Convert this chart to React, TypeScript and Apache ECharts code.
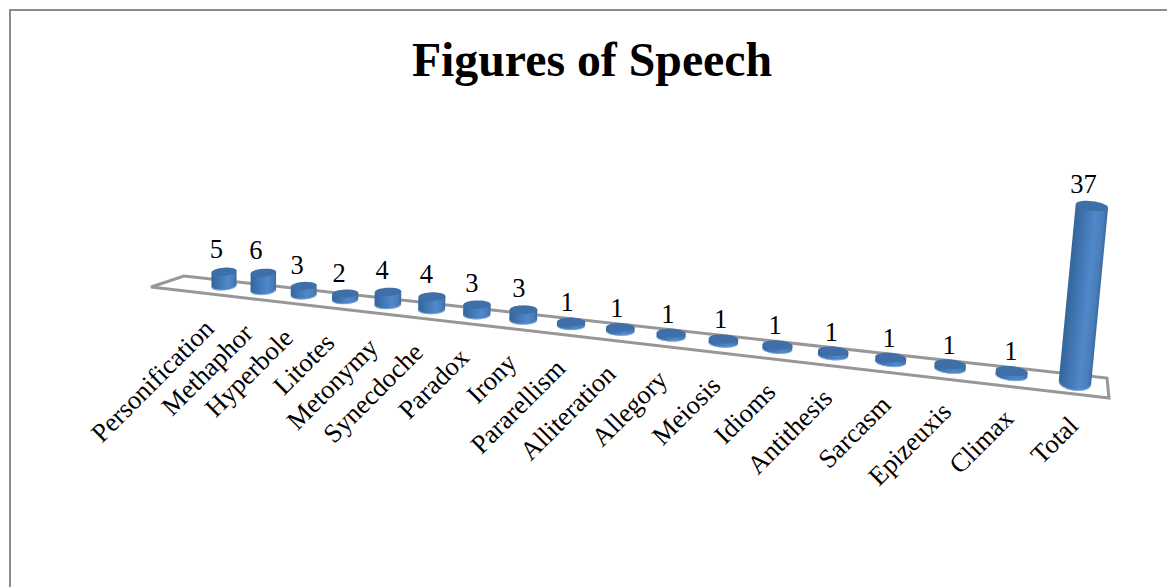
import React, { useEffect, useRef } from "react";
import * as echarts from "echarts";

const chartTitle = "Figures of Speech";
const categories = ["Personification", "Methaphor", "Hyperbole", "Litotes", "Metonymy", "Synecdoche", "Paradox", "Irony", "Pararellism", "Alliteration", "Allegory", "Meiosis", "Idioms", "Antithesis", "Sarcasm", "Epizeuxis", "Climax", "Total"];
const values = [5, 6, 3, 2, 4, 4, 3, 3, 1, 1, 1, 1, 1, 1, 1, 1, 1, 37];

const W = 1167, H = 587;
const GRID_LEFT = 224, GRID_WIDTH = 851, GRID_BASE = 286, UNIT = 2.87, Y_MAX = 40;
const LAST = categories.length - 1;
const PERSP = 0.01326;
const FONT = '26.5px "Liberation Serif", "Times New Roman", serif';

function arc(cx: number, cy: number, rx: number, ry: number, rot: number, from: number, to: number, n: number) {
  const pts: number[][] = [];
  const c = Math.cos(rot), s = Math.sin(rot);
  for (let i = 0; i <= n; i++) {
    const a = from + ((to - from) * i) / Math.max(n, 1);
    const ex = rx * Math.cos(a), ey = ry * Math.sin(a);
    pts.push([cx + ex * c - ey * s, cy + ex * s + ey * c]);
  }
  return pts;
}

function renderBar(_: any, api: any) {
  const idx = api.value(0);
  const v = api.value(1);
  const p0 = api.coord([idx, 0]);
  const p1 = api.coord([idx, v]);
  // project the flat axis position on to the receding floor
  const t = ((p0[0] - GRID_LEFT) / GRID_WIDTH) * LAST;
  const w = 1 - PERSP * t;
  const bx = (GRID_LEFT + 35.8 * t) / w;
  const by = p0[1] + (bx - GRID_LEFT) * 0.114;
  const h = (p0[1] - p1[1]) / (w * w);
  const tilt = ((bx - GRID_LEFT) / GRID_WIDTH) * 0.096;
  const tx = bx + h * tilt;
  const ty = by - h;
  const rx = 12.6 / w;
  const ry = 4 + 0.04 * t * (1 / w);
  const ryB = ry + h * 0.015;
  const rot = ((-5 + (12 * t) / LAST) * Math.PI) / 180;

  const body = [...arc(tx, ty, rx, ry, rot, Math.PI, Math.PI, 0).slice(0, 1), ...arc(bx, by, rx, ryB, rot, Math.PI, 0, 28), ...arc(tx, ty, rx, ry, rot, 0, 0, 0).slice(0, 1)];
  const gx = Math.cos(Math.atan(tilt)) * rx, gy = Math.sin(Math.atan(tilt)) * rx;
  const grad = new echarts.graphic.LinearGradient(bx - gx, by - gy, bx + gx, by + gy, [
    { offset: 0, color: "#34659b" },
    { offset: 0.3, color: "#4175b2" },
    { offset: 0.65, color: "#5088ca" },
    { offset: 0.88, color: "#4a7dba" },
    { offset: 1, color: "#3b6a9e" },
  ], true);
  const rim = arc(bx, by, rx - 0.5, ryB - 0.3, rot, Math.PI, 0, 28);

  const lx = tx - 7 + 0.4 * t - 0.047 * h;
  const ly = ty - 18.5 - Math.min(h, 14) * 0.28;
  const nx = bx - 15 + t - 3.5 * Math.min(1, t / 3);
  const ny = by + 38;

  return {
    type: "group",
    children: [
      { type: "polygon", shape: { points: body }, style: { fill: grad } },
      { type: "polyline", shape: { points: rim }, style: { stroke: "#86aee0", lineWidth: 1.2, fill: "none", opacity: 0.8 } },
      { type: "polygon", shape: { points: arc(tx, ty, rx, ry, rot, 0, Math.PI * 2, 36) }, style: { fill: "#3f6fa8" } },
      { type: "text", x: lx, y: ly, style: { text: String(v), font: FONT, fill: "#000", textAlign: "center", textVerticalAlign: "middle" } },
      { type: "text", x: nx, y: ny, rotation: Math.PI / 4, style: { text: categories[idx], font: FONT, fill: "#000", textAlign: "right", textVerticalAlign: "middle" } },
    ],
  };
}

export default function App() {
  const ref = useRef<HTMLDivElement>(null);
  useEffect(() => {
    document.body.style.margin = "0";
    document.body.style.overflow = "hidden";
    const chart = echarts.init(ref.current!, null, { renderer: "svg" });
    chart.setOption({
      animation: false,
      backgroundColor: "#fff",
      title: {
        text: chartTitle,
        left: 587,
        top: 30,
        textAlign: "center",
        textStyle: { fontFamily: '"Liberation Serif", serif', fontSize: 47.8, fontWeight: "bold", color: "#000" },
      },
      grid: { left: GRID_LEFT, width: GRID_WIDTH, top: GRID_BASE - UNIT * Y_MAX, height: UNIT * Y_MAX },
      xAxis: { type: "category", data: categories, boundaryGap: false, show: false },
      yAxis: { type: "value", min: 0, max: Y_MAX, show: false },
      graphic: [
        { type: "line", z: 0, shape: { x1: 9, y1: 10, x2: W, y2: 10 }, style: { stroke: "#8c8c8c", lineWidth: 2 } },
        { type: "line", z: 0, shape: { x1: 10, y1: 9, x2: 10, y2: H }, style: { stroke: "#8c8c8c", lineWidth: 2 } },
        { type: "polygon", z: 0, shape: { points: [[151, 287], [184, 276], [1107, 378], [1109, 398]] }, style: { fill: "#fff", stroke: "#979797", lineWidth: 3 } },
      ],
      series: [{
        type: "custom",
        coordinateSystem: "cartesian2d",
        renderItem: renderBar,
        encode: { x: 0, y: 1 },
        data: values.map((v, i) => [i, v]),
        z: 5,
        clip: false,
      }],
    });
    return () => chart.dispose();
  }, []);
  return <div ref={ref} style={{ width: W, height: H }} />;
}
